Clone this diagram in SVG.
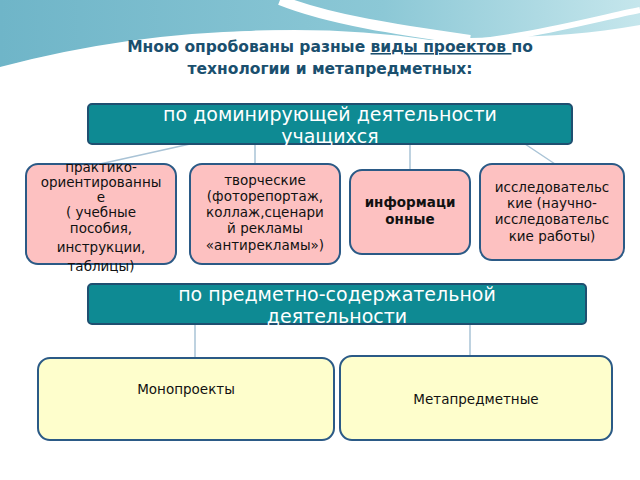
<svg xmlns="http://www.w3.org/2000/svg" width="640" height="480" viewBox="0 0 640 480">
<defs>
<linearGradient id="bg" x1="0" y1="0" x2="1" y2="0"><stop offset="0" stop-color="#6fb5c8"/><stop offset="0.6" stop-color="#8cc8d6"/><stop offset="1" stop-color="#c5e6ec"/></linearGradient>
</defs>
<style>
.bar{fill:#0e8a93;stroke:#1f4f70;stroke-width:2}
.pk{fill:#fdc1c1;stroke:#2b5a86;stroke-width:2}
.yl{fill:#fefecc;stroke:#2b5a86;stroke-width:2}
.ln{stroke:#a9c3d6;stroke-width:1.5;fill:none}
.t{font-family:"DejaVu Sans",sans-serif;font-size:13.5px;fill:#111;text-anchor:middle}
.w{font-family:"DejaVu Sans",sans-serif;font-size:19px;fill:#fff;text-anchor:middle}
</style>
<rect width="640" height="480" fill="#fff"/>
<path d="M0 0H640V25C560 40 500 35 430 40C300 20 150 30 0 70Z" fill="url(#bg)"/>
<path d="M0 70C150 30 300 25 440 45C520 40 590 20 640 10" stroke="#fff" stroke-width="6" fill="none"/>
<path d="M280 0C330 20 400 30 470 40" stroke="#fff" stroke-width="10" fill="none"/>
<text x="330" y="52" font-family="'DejaVu Sans',sans-serif" font-weight="bold" font-size="15.5" fill="#1a4f6e" text-anchor="middle">Мною опробованы разные <tspan text-decoration="underline">виды проектов </tspan>по</text>
<text x="330" y="74" font-family="'DejaVu Sans',sans-serif" font-weight="bold" font-size="15.5" fill="#1a4f6e" text-anchor="middle">технологии и метапредметных:</text>
<g id="connectors">
<path class="ln" d="M100 164L190 144M255 144V164M410 144V170M525 144L555 164M195 324V358M470 324V356"/>
</g>
<g id="n1"><rect class="bar" x="88" y="104" width="484" height="40" rx="4"/><text class="w" x="330" y="121">по доминирующей деятельности</text><text class="w" x="330" y="143">учащихся</text></g>
<g id="n2"><rect class="pk" x="26" y="164" width="150" height="100" rx="12"/><text class="t" x="101" y="172">практико-</text><text class="t" x="101" y="187">ориентированны</text><text class="t" x="101" y="202">е</text><text class="t" x="101" y="217">( учебные</text><text class="t" x="101" y="233">пособия,</text><text class="t" x="101" y="252">инструкции,</text><text class="t" x="101" y="271">таблицы)</text></g>
<g id="n3"><rect class="pk" x="190" y="164" width="150" height="100" rx="12"/><text class="t" x="265" y="185">творческие</text><text class="t" x="265" y="201">(фоторепортаж,</text><text class="t" x="265" y="217">коллаж,сценари</text><text class="t" x="265" y="233">й рекламы</text><text class="t" x="265" y="250">«антирекламы»)</text></g>
<g id="n4"><rect class="pk" x="350" y="170" width="120" height="84" rx="12"/><text class="t" x="410" y="207" font-weight="bold" fill="#1a2a50">информаци</text><text class="t" x="410" y="224" font-weight="bold" fill="#1a2a50">онные</text></g>
<g id="n5"><rect class="pk" x="480" y="164" width="144" height="96" rx="12"/><text class="t" x="552" y="192">исследовательс</text><text class="t" x="552" y="208">кие (научно-</text><text class="t" x="552" y="224">исследовательс</text><text class="t" x="552" y="241">кие работы)</text></g>
<g id="n6"><rect class="bar" x="88" y="284" width="498" height="40" rx="4"/><text class="w" x="337" y="301">по  предметно-содержательной</text><text class="w" x="337" y="323">деятельности</text></g>
<g id="n7"><rect class="yl" x="38" y="358" width="296" height="82" rx="12"/><text class="t" x="186" y="394">Монопроекты</text></g>
<g id="n8"><rect class="yl" x="340" y="356" width="272" height="84" rx="12"/><text class="t" x="476" y="404">Метапредметные</text></g>
</svg>
